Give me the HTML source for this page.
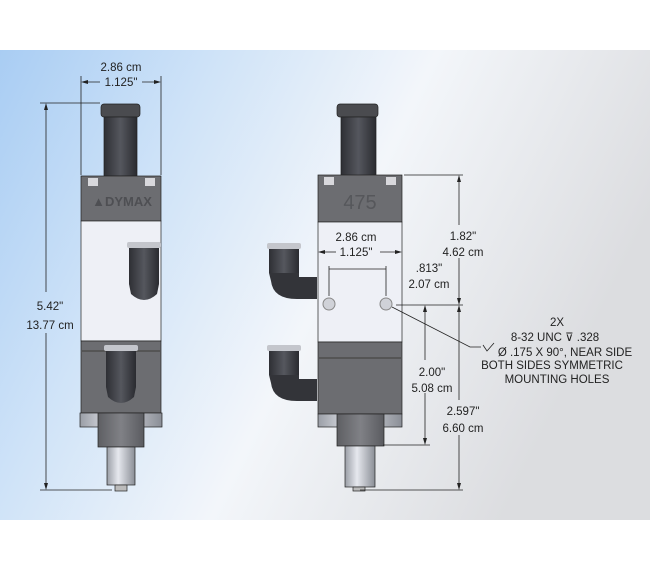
<!DOCTYPE html>
<html><head><meta charset="utf-8"><style>
html,body{margin:0;padding:0;background:#fff;}
svg{display:block;font-family:"Liberation Sans",sans-serif;}
</style></head><body>
<svg width="650" height="570" viewBox="0 0 650 570" xmlns="http://www.w3.org/2000/svg">
<defs>
<linearGradient id="bg" x1="0" y1="0" x2="1" y2="0.35">
<stop offset="0" stop-color="#a9cdf3"/>
<stop offset="0.3" stop-color="#cfe3f8"/>
<stop offset="0.6" stop-color="#f3f6fa"/>
<stop offset="1" stop-color="#dcdde0"/>
</linearGradient>
<linearGradient id="metal" x1="0" y1="0" x2="1" y2="0">
<stop offset="0" stop-color="#9a9ea6"/><stop offset="0.4" stop-color="#e6e8ee"/><stop offset="1" stop-color="#8a8e96"/>
</linearGradient>
<linearGradient id="dark" x1="0" y1="0" x2="1" y2="0">
<stop offset="0" stop-color="#2e2f34"/><stop offset="0.5" stop-color="#55575e"/><stop offset="1" stop-color="#2a2b30"/>
</linearGradient>
<linearGradient id="gray" x1="0" y1="0" x2="1" y2="0">
<stop offset="0" stop-color="#5e5f63"/><stop offset="0.5" stop-color="#808186"/><stop offset="1" stop-color="#5a5b60"/>
</linearGradient>
<g id="fit">
<rect x="0" y="0" width="34" height="6" rx="2" fill="#c4c6cc"/>
<rect x="2" y="6" width="30" height="36" fill="url(#dark)"/>
<path d="M2 42 L32 42 L30 52 Q17 64 4 52 Z" fill="url(#dark)"/>
</g>
<g id="elbow">
<rect x="0" y="0" width="34" height="6" rx="2" fill="#c4c6cc"/>
<rect x="2" y="6" width="30" height="24" fill="url(#dark)"/>
<path d="M2 30 L32 30 L32 34 L50 34 L50 56 L30 56 Q6 56 4 38 Z" fill="#333439"/>
</g>
</defs>
<rect x="0" y="50" width="650" height="470" fill="url(#bg)"/>

<!-- LEFT DEVICE -->
<g stroke="#222" stroke-width="0.7">
<rect x="101" y="104" width="39" height="13" rx="3" fill="#4a4b4f"/>
<rect x="104" y="117" width="33" height="59" fill="url(#dark)"/>
<rect x="81" y="176" width="80" height="45" fill="#6c6d71"/>
<rect x="81" y="221" width="80" height="120" fill="#eef0f6"/>
<rect x="81" y="341" width="80" height="72" fill="#6c6d71"/>
<rect x="80" y="413" width="82" height="14" fill="url(#metal)"/>
<rect x="98" y="413" width="46" height="34" fill="url(#gray)"/>
<rect x="107" y="447" width="28" height="38" fill="url(#metal)"/>
<rect x="115" y="485" width="12" height="6" fill="#bbb"/>
</g>
<rect x="82" y="350" width="78" height="2" fill="#555"/>
<rect x="88" y="178" width="10" height="8" fill="#d8d8dc"/>
<rect x="145" y="178" width="10" height="8" fill="#d8d8dc"/>
<text x="122" y="206" font-size="13" font-weight="bold" fill="#4e4f53" text-anchor="middle">▲DYMAX</text>
<use href="#fit" x="127" y="242"/>
<use href="#fit" x="104" y="345"/>

<!-- left dims -->
<g stroke="#222" stroke-width="0.8" fill="none">
<line x1="81" y1="76" x2="81" y2="175"/>
<line x1="161" y1="76" x2="161" y2="175"/>
<line x1="83" y1="82" x2="100" y2="82"/><line x1="142" y1="82" x2="159" y2="82"/>
<line x1="40" y1="103" x2="100" y2="103"/>
<line x1="40" y1="490" x2="112" y2="490"/>
<line x1="46" y1="106" x2="46" y2="292"/>
<line x1="46" y1="333" x2="46" y2="487"/>
</g>
<g fill="#222">
<path d="M81 82 l7 -2 v4z"/><path d="M161 82 l-7 -2 v4z"/>
<path d="M46 103 l-2 7 h4z"/><path d="M46 490 l-2 -7 h4z"/>
</g>
<g font-size="11.5" fill="#222" text-anchor="middle">
<text x="121" y="71">2.86 cm</text>
<text x="121" y="86">1.125"</text>
<text x="50" y="310">5.42"</text>
<text x="50" y="329">13.77 cm</text>
</g>

<!-- RIGHT DEVICE -->
<use href="#elbow" x="267" y="243"/>
<use href="#elbow" x="267" y="345"/>
<g stroke="#222" stroke-width="0.7">
<rect x="337" y="104" width="41" height="13" rx="3" fill="#4a4b4f"/>
<rect x="341" y="117" width="35" height="59" fill="url(#dark)"/>
<rect x="318" y="175" width="84" height="47" fill="#6c6d71"/>
<rect x="318" y="222" width="84" height="120" fill="#eef0f6"/>
<rect x="318" y="342" width="84" height="72" fill="#6c6d71"/>
<rect x="318" y="414" width="84" height="13" fill="url(#metal)"/>
<rect x="337" y="414" width="47" height="32" fill="url(#gray)"/>
<rect x="345" y="446" width="30" height="41" fill="url(#metal)"/>
<rect x="353" y="487" width="12" height="4" fill="#bbb"/>
</g>
<rect x="319" y="357" width="82" height="2" fill="#555"/>
<rect x="324" y="177" width="10" height="8" fill="#d8d8dc"/>
<rect x="386" y="177" width="10" height="8" fill="#d8d8dc"/>
<text x="360" y="209" font-size="20" fill="#56575b" text-anchor="middle">475</text>
<circle cx="329" cy="304" r="6" fill="#d0d2d8" stroke="#888"/>
<circle cx="386" cy="304" r="6" fill="#d0d2d8" stroke="#888"/>

<!-- right dims -->
<g stroke="#222" stroke-width="0.8" fill="none">
<line x1="320" y1="252" x2="336" y2="252"/><line x1="380" y1="252" x2="400" y2="252"/>
<line x1="329" y1="266" x2="329" y2="296"/><line x1="386" y1="266" x2="386" y2="296"/>
<line x1="329" y1="269" x2="386" y2="269"/>
<line x1="404" y1="175" x2="463" y2="175"/>
<line x1="396" y1="305" x2="463" y2="305"/>
<line x1="383" y1="445" x2="430" y2="445"/>
<line x1="360" y1="490" x2="463" y2="490"/>
<line x1="459" y1="178" x2="459" y2="225"/><line x1="459" y1="258" x2="459" y2="302"/>
<line x1="459" y1="308" x2="459" y2="400"/><line x1="459" y1="435" x2="459" y2="487"/>
<line x1="425" y1="308" x2="425" y2="360"/><line x1="425" y1="393" x2="425" y2="442"/>
<polyline points="392,307 470,347 481,347"/>
<polyline points="483,345 487,351 494,343"/>
</g>
<g fill="#222">
<path d="M318 252 l7 -2 v4z"/><path d="M402 252 l-7 -2 v4z"/>
<path d="M459 175 l-2 7 h4z"/><path d="M459 305 l-2 -7 h4z"/>
<path d="M459 305 l-2 7 h4z"/><path d="M459 490 l-2 -7 h4z"/>
<path d="M425 305 l-2 7 h4z"/><path d="M425 445 l-2 -7 h4z"/>
</g>
<g font-size="11.5" fill="#222" text-anchor="middle">
<text x="356" y="241">2.86 cm</text>
<text x="356" y="256">1.125"</text>
<text x="429" y="272">.813"</text>
<text x="429" y="288">2.07 cm</text>
<text x="463" y="240">1.82"</text>
<text x="463" y="256">4.62 cm</text>
<text x="432" y="376">2.00"</text>
<text x="432" y="392">5.08 cm</text>
<text x="463" y="415">2.597"</text>
<text x="463" y="432">6.60 cm</text>
<text x="557" y="326">2X</text>
<text x="555" y="341">8-32 UNC  ⊽ .328</text>
<text x="565" y="356">Ø .175 X 90°, NEAR SIDE</text>
<text x="552" y="369">BOTH SIDES SYMMETRIC</text>
<text x="557" y="383">MOUNTING HOLES</text>
</g>
</svg>
</body></html>
